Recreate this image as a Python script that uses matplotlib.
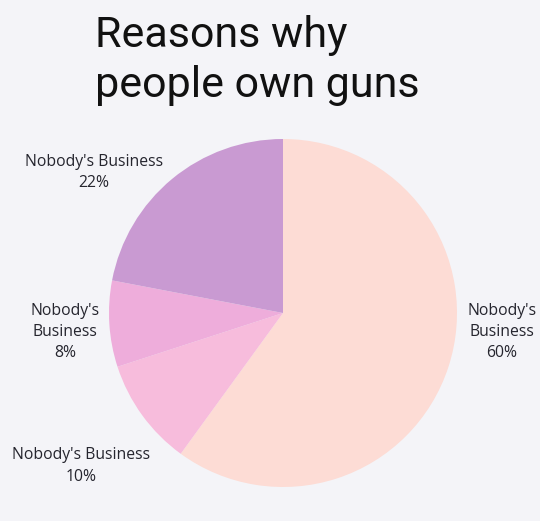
import matplotlib.pyplot as plt

labels = ["Nobody's\nBusiness", "Nobody's Business", "Nobody's\nBusiness", "Nobody's Business"]
shares = [60, 10, 8, 22]
colors = ["#fddcd5", "#f7bcdc", "#eeaddb", "#c99ad2"]
title_lines = ["Reasons why", "people own guns"]

W, H = 540, 521
fig = plt.figure(figsize=(W / 100, H / 100), dpi=100)
fig.patch.set_facecolor("#f4f4f8")
ax = fig.add_axes([0, 0, 1, 1])

cx, cy, r = 283, H - 313, 174
ax.pie(shares, colors=colors, startangle=90, counterclock=False,
       center=(cx, cy), radius=r, frame=True,
       wedgeprops=dict(linewidth=0))
ax.set_xlim(0, W)
ax.set_ylim(0, H)
ax.set_aspect("equal")
ax.axis("off")

# title, two lines
ax.text(95, H - 47, title_lines[0], fontsize=31, family="Roboto",
        color="#111111", va="baseline", ha="left")
ax.text(95, H - 97, title_lines[1], fontsize=31, family="Roboto",
        color="#111111", va="baseline", ha="left")

# slice labels (centre of the label block)
label_pos = [(502, H - 332), (81, H - 466), (65, H - 332), (94, H - 172.5)]
for lab, val, (x, y) in zip(labels, shares, label_pos):
    ax.text(x, y, f"{lab}\n{val}%", fontsize=11.3, family="Open Sans",
            color="#25252e", ha="center", va="center", linespacing=1.42)

fig.savefig("out.png", dpi=100, facecolor=fig.get_facecolor())
